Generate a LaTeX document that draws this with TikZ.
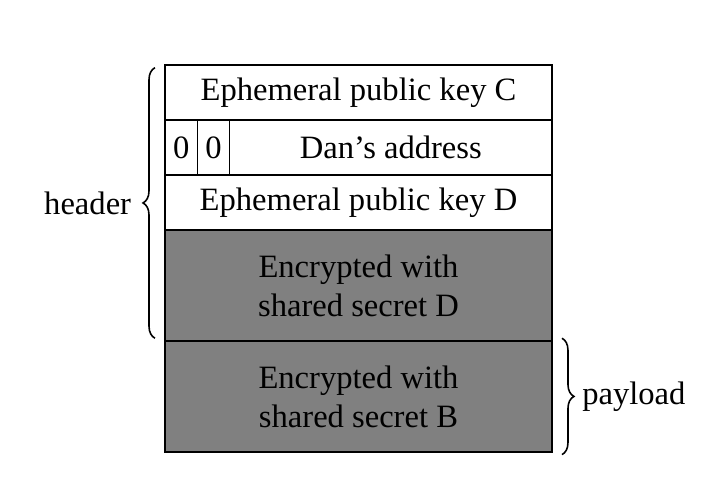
\documentclass[tikz,border=0pt]{standalone}
\usepackage{fontspec}
\setmainfont{Liberation Serif}
\usetikzlibrary{positioning, decorations.pathreplacing}
\definecolor{cipher}{RGB}{128,128,128}

\begin{document}
\begin{tikzpicture}[font=\fontsize{10.3}{12.3}\selectfont,
  field/.style={rectangle, draw=black, minimum width=4.3cm, minimum height=0.611cm, inner sep=0pt, outer sep=0pt},
  bit/.style={field, minimum width=0.36cm},
  sealed/.style={field, fill=cipher, minimum height=1.233cm, align=center},
  curly/.style={decorate, decoration={brace, amplitude=0.133cm}, line width=0.5pt}]
\useasboundingbox (0,0) rectangle (7.844,5.4);

% Header fields
\node[field, anchor=north west] (keyC) at (1.833,4.678) {Ephemeral public key C};
\node[bit, below right=0cm and 0cm of keyC.south west] (zeroA) {0};
\node[bit, right=0cm of zeroA] (zeroB) {0};
\node[field, minimum width=3.58cm, right=0cm of zeroB] (addr) {Dan’s address};
\node[field, below right=0cm and 0cm of zeroA.south west] (keyD) {Ephemeral public key D};
\node[sealed, below=0cm of keyD] (secD) {Encrypted with\\shared secret D};

% Payload
\node[sealed, below=0cm of secD] (secB) {Encrypted with\\shared secret B};

% Braces
\draw[curly] ([xshift=-0.111cm, yshift=0.03cm]secD.south west) -- ([xshift=-0.111cm, yshift=-0.03cm]keyC.north west)
  node[midway, left=0.14cm] (header) {header};
\draw[curly] ([xshift=0.111cm, yshift=0.03cm]secB.north east) -- ([xshift=0.111cm, yshift=-0.03cm]secB.south east)
  node[midway, right=0.1cm] (payload) {payload};
\end{tikzpicture}
\end{document}
